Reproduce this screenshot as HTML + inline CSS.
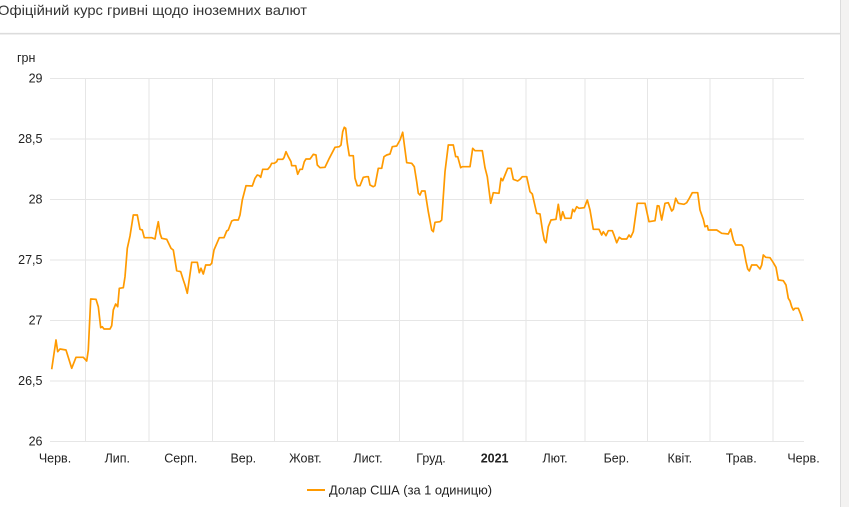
<!DOCTYPE html>
<html><head><meta charset="utf-8"><style>
html,body{margin:0;padding:0;background:#fff;}
svg{display:block;}
text{font-family:"Liberation Sans","Noto Sans CJK SC",sans-serif;}
</style></head><body>
<svg width="849" height="507" viewBox="0 0 849 507" xmlns="http://www.w3.org/2000/svg">
<rect x="0" y="0" width="849" height="507" fill="#fff"/>
<rect x="840" y="0" width="9" height="507" fill="#f3f2f1"/>
<line x1="840.5" y1="0" x2="840.5" y2="507" stroke="#dcdcdc" stroke-width="1"/>
<line x1="0" y1="33.5" x2="840" y2="33.5" stroke="#dcdcdc" stroke-width="1.2"/>
<line x1="0" y1="34.5" x2="840" y2="34.5" stroke="#efefef" stroke-width="1"/>
<text x="-2" y="15" font-size="14" fill="#333" textLength="309" lengthAdjust="spacingAndGlyphs">Офіційний курс гривні щодо іноземних валют</text>

<g stroke="#e6e6e6" stroke-width="1">
<line x1="50" y1="78.5" x2="804" y2="78.5"/>
<line x1="50" y1="139" x2="804" y2="139"/>
<line x1="50" y1="199.5" x2="804" y2="199.5"/>
<line x1="50" y1="260" x2="804" y2="260"/>
<line x1="50" y1="320.5" x2="804" y2="320.5"/>
<line x1="50" y1="381" x2="804" y2="381"/>
<line x1="50" y1="441.5" x2="804" y2="441.5"/>
<line x1="85.5" y1="78" x2="85.5" y2="442"/>
<line x1="149" y1="78" x2="149" y2="442"/>
<line x1="212.5" y1="78" x2="212.5" y2="442"/>
<line x1="274.5" y1="78" x2="274.5" y2="442"/>
<line x1="337.5" y1="78" x2="337.5" y2="442"/>
<line x1="399.5" y1="78" x2="399.5" y2="442"/>
<line x1="463" y1="78" x2="463" y2="442"/>
<line x1="526" y1="78" x2="526" y2="442"/>
<line x1="585" y1="78" x2="585" y2="442"/>
<line x1="647.5" y1="78" x2="647.5" y2="442"/>
<line x1="710" y1="78" x2="710" y2="442"/>
<line x1="773" y1="78" x2="773" y2="442"/>
</g>

<g font-size="12.5" fill="#222" text-anchor="end">
<text x="42.5" y="82.5">29</text>
<text x="42.5" y="143">28,5</text>
<text x="42.5" y="203.5">28</text>
<text x="42.5" y="264">27,5</text>
<text x="42.5" y="324.5">27</text>
<text x="42.5" y="385">26,5</text>
<text x="42.5" y="445.5">26</text>
</g>
<text x="17" y="62" font-size="12.5" fill="#222">грн</text>

<g font-size="12.5" fill="#222" text-anchor="middle">
<text x="55" y="462.5">Черв.</text>
<text x="117.3" y="462.5">Лип.</text>
<text x="180.8" y="462.5">Серп.</text>
<text x="243.3" y="462.5">Вер.</text>
<text x="305.4" y="462.5">Жовт.</text>
<text x="368" y="462.5">Лист.</text>
<text x="431" y="462.5">Груд.</text>
<text x="494.6" y="462.5" font-weight="bold">2021</text>
<text x="555" y="462.5">Лют.</text>
<text x="616.4" y="462.5">Бер.</text>
<text x="679.8" y="462.5">Квіт.</text>
<text x="741.2" y="462.5">Трав.</text>
<text x="803.5" y="462.5">Черв.</text>
</g>

<polyline fill="none" stroke="#ff9a00" stroke-width="1.7" stroke-linejoin="round" points="
51.7,369.3 56,340 57.7,351.7 60,349 66,350 71.7,368.3 76,357.3 83.3,357.3 86.7,361 88.3,350 90.7,299 96,299.3 98.3,306.7 100.7,327.7 102.3,326.7 104,329 110,329 111.7,325.7 113.3,310 115.7,304 117.7,306.7 119.3,288.3 123.3,287.7 125,276.7 127.3,248.3 130,236 133.3,215 137.3,215 140,229.3 142.3,230 144.3,237.7 151.7,237.7 155,239 156.7,229.3 158.3,221.7 160,233.3 161.7,238.3 166.7,239.3 171,248.3 173.3,250 176.7,270.7 180.7,271.7 183.3,280 185,285 187.3,293.3 191.7,262.3 197.3,262.3 199.3,272.7 201,268.3 203.3,274 205.7,265 210,265 211.7,263.3 214,250 219.3,237.7 224,237.7 226.7,231 228.3,230 231.7,221 234,220 238.3,220 240,215 242.3,200 246,185.7 252.3,186 255,178.3 257.3,175 259.3,175.7 260.7,177.3 262.7,169.3 267.7,169.3 270,166.7 271.7,163.3 274.3,163.3 276.7,161.7 277.7,159.3 282.7,159.3 284,157.7 286,151.7 288.3,156.7 291,161.7 291.7,165.7 295.7,165.7 297.7,174.3 300,169.3 302.3,169.3 304.3,161.7 306,159 310,159 311.7,156.7 313.3,154.3 316,155 317.3,165 320,167.7 325,167.3 329.3,158.3 335,147.3 339.3,146.7 341,145 342.7,131.7 344.3,127.3 345.7,128.3 347.3,143.3 349.3,155.7 353.3,155.7 355,178.3 357.3,185.7 360,185.7 363.3,177.3 366.7,176.7 368.3,176.7 370,185 373.3,186.7 375,185.7 378.3,168.3 381.7,168.3 384,156.7 386.7,155 390,154 392.3,146.7 396.7,146 400,140 402.7,132.3 406.7,162.7 411.7,163.3 414.3,166.7 416.7,181.7 418.3,193.3 420,195 421.7,191 425,191 428.3,211.7 431.7,230 433.3,231.7 435,222.3 440,221.7 441.7,220 445,171.7 448.3,145 453.3,145 455.7,156.7 457.7,156.7 460.7,167.7 462.3,166.7 470,166.7 472.7,148.3 475,150.7 482.3,150.7 485,167.7 487.3,176.7 490.7,203.3 493.3,192.7 499,193.3 501,178.3 502.7,180.7 505,175 507.7,168.3 511,168.3 513.3,179.3 517.7,181 520,179.3 522.3,176.7 526.7,176.7 530,191.7 532.3,194 536.7,213.3 540,214 542.7,231.7 544.3,240 546,242.7 548.3,226.7 551,220 556,219.3 558.3,204.3 560.7,220 562.7,211.7 565,218.3 571,218.3 572.7,209.3 574.3,211.7 576.7,206.7 579,208.3 584.3,207.7 587.3,200 590,210 593.3,229.3 599,229.3 601.7,235 603.3,231.7 606,235.7 608.3,230.7 612.3,230.7 614,235 616.7,242.7 619.3,237.3 621.7,239 626.7,239 629,235 630.7,237.3 633.3,231.7 637.3,203.3 645,203.3 649,221.7 655,220.7 657.3,205.7 659,206 661.7,220 665,203.3 668.3,202.7 671.7,211 673.3,209.3 675.7,198.3 678.3,203.3 684,204.3 686.7,202.7 689.3,198.3 692.3,192.7 697.7,192.7 700,210 703.3,219.3 705,226.7 707.3,225.7 708.3,230 716.7,230 721.7,233.3 728.3,234 730.7,229 733.3,240 735.7,245 741.7,245 743.3,247.3 746,261.7 747.7,269 749.3,271 751.7,265 756.7,265 760,269 761.7,265 763.3,255 765.7,257.3 770,257.7 772.7,261.7 776,267.3 778.3,280 783.3,280.7 786,285 788.3,298.3 790,301 791.7,306.7 793.3,310 795,308.3 798.3,308.3 800.7,314.3 802.7,321"/>

<line x1="307" y1="490" x2="325" y2="490" stroke="#ff9a00" stroke-width="2"/>
<text x="329" y="494.5" font-size="12.5" fill="#222" textLength="163" lengthAdjust="spacingAndGlyphs">Долар США (за 1 одиницю)</text>
</svg>
</body></html>
